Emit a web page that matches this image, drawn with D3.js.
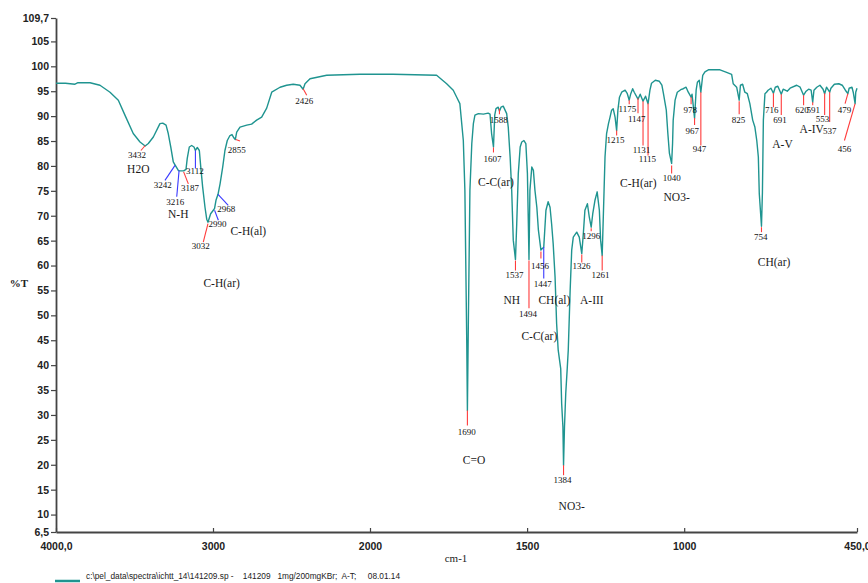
<!DOCTYPE html>
<html>
<head>
<meta charset="utf-8">
<script src="https://cdn.jsdelivr.net/npm/d3@7"></script>
<style>
  html, body { margin: 0; padding: 0; background: #fff; }
  svg { display: block; }
</style>
</head>
<body>
<script>
// IR transmittance spectrum, KBr pellet
const wavenumbers = [
  4000, 3940, 3879, 3860, 3783, 3720, 3656, 3603, 3561, 3508, 3465, 3432, 3412, 3380, 3338, 3320, 3299, 3285,
  3269, 3253, 3242, 3221, 3216, 3187, 3172, 3164, 3151, 3136, 3121, 3112, 3100, 3087, 3078, 3066, 3051, 3040,
  3032, 3015, 2998, 2990, 2981, 2968, 2955, 2938, 2924, 2909, 2892, 2879, 2866, 2858, 2849, 2828, 2785, 2754,
  2722, 2690, 2658, 2626, 2573, 2531, 2489, 2446, 2426, 2414, 2382, 2276, 2064, 1927, 1788, 1756, 1735, 1724,
  1714, 1703, 1698, 1692, 1690, 1687, 1682, 1676, 1671, 1666, 1655, 1639, 1624, 1618, 1613, 1607, 1603, 1599,
  1592, 1588, 1583, 1576, 1565, 1560, 1554, 1549, 1544, 1537, 1533, 1528, 1522, 1517, 1510, 1504, 1499, 1496,
  1494, 1491, 1485, 1480, 1475, 1469, 1464, 1456, 1447, 1440, 1433, 1427, 1422, 1417, 1411, 1406, 1401, 1393,
  1390, 1386, 1384, 1381, 1377, 1372, 1369, 1363, 1358, 1353, 1342, 1334, 1326, 1321, 1316, 1308, 1302, 1296,
  1291, 1284, 1277, 1270, 1266, 1261, 1255, 1252, 1247, 1241, 1236, 1231, 1226, 1220, 1215, 1211, 1206, 1199,
  1188, 1181, 1175, 1170, 1164, 1159, 1147, 1140, 1131, 1123, 1115, 1109, 1104, 1092, 1079, 1071, 1066, 1057,
  1052, 1047, 1040, 1037, 1035, 1029, 1022, 1011, 1003, 994, 987, 978, 975, 967, 962, 958, 952, 947,
  941, 934, 923, 886, 865, 849, 844, 833, 825, 821, 814, 807, 799, 791, 782, 775, 769, 764,
  761, 754, 751, 748, 743, 738, 733, 724, 716, 710, 702, 691, 685, 672, 663, 642, 631, 620,
  612, 604, 596, 591, 587, 578, 568, 558, 553, 547, 537, 533, 522, 508, 497, 487, 479, 475,
  466, 462, 456, 454, 450
];
const transmittance = [
  96.6, 96.6, 96.4, 96.7, 96.7, 96.2, 94.8, 93.2, 90.2, 86.5, 84.8, 84.0, 84.5, 85.8, 88.5, 88.6, 88.2, 86.5,
  83.8, 80.8, 80.2, 79.1, 79.0, 79.0, 79.3, 81.5, 83.8, 84.1, 83.8, 83.1, 83.7, 83.1, 79.8, 75.8, 71.7, 69.3,
  68.7, 70.4, 71.1, 71.5, 73.1, 74.3, 76.4, 79.8, 83.1, 85.1, 86.1, 86.3, 85.6, 85.3, 86.8, 87.8, 88.2, 88.4,
  89.2, 89.8, 91.6, 94.8, 95.8, 96.2, 96.4, 96.2, 95.4, 96.5, 97.5, 98.2, 98.4, 98.4, 98.2, 96.5, 95.2, 93.8,
  92.5, 85.1, 75.1, 44.4, 30.9, 48.4, 75.1, 84.5, 88.5, 90.2, 90.5, 90.4, 90.6, 90.4, 86.5, 83.8, 90.2, 91.5,
  91.8, 91.0, 91.8, 92.0, 90.5, 87.8, 81.8, 75.1, 65.1, 61.2, 68.4, 78.5, 83.8, 84.8, 85.1, 84.5, 78.5, 68.4,
  61.2, 75.1, 79.8, 79.1, 75.1, 71.7, 67.1, 63.1, 63.7, 71.1, 72.8, 71.7, 68.4, 64.4, 57.7, 48.3, 43.0, 39.3,
  32.3, 27.6, 19.9, 27.6, 34.3, 39.6, 43.0, 55.0, 63.1, 65.7, 66.7, 65.7, 62.4, 66.4, 71.1, 72.4, 69.7, 67.7,
  70.4, 73.1, 74.8, 71.1, 65.1, 62.0, 75.1, 81.8, 86.5, 88.5, 89.8, 91.2, 91.5, 89.8, 87.1, 91.2, 93.8, 94.8,
  95.2, 94.5, 93.2, 94.5, 95.5, 94.8, 93.4, 94.4, 93.0, 94.0, 92.5, 95.2, 96.6, 97.2, 97.0, 96.2, 94.5, 91.2,
  86.5, 82.5, 80.5, 84.5, 89.2, 93.2, 94.8, 95.3, 95.5, 95.8, 94.8, 93.8, 94.4, 89.6, 95.2, 96.8, 97.2, 94.8,
  98.2, 98.9, 99.3, 99.3, 98.8, 98.4, 96.5, 95.8, 93.2, 96.2, 96.4, 94.8, 94.5, 92.5, 89.2, 87.8, 85.1, 81.8,
  74.4, 67.9, 74.7, 89.2, 94.5, 94.8, 95.2, 95.6, 94.6, 95.8, 96.0, 94.4, 95.4, 95.0, 95.6, 96.2, 95.8, 94.2,
  95.0, 95.4, 95.2, 92.8, 95.2, 95.8, 96.2, 95.4, 94.5, 95.8, 94.8, 95.6, 96.4, 96.5, 96.2, 95.2, 94.5, 95.6,
  95.8, 94.8, 92.5, 94.8, 95.6
];

// Axis ticks
const yTicks = [6.5, 10, 15, 20, 25, 30, 35, 40, 45, 50, 55, 60, 65, 70, 75, 80, 85, 90, 95, 100, 105, 109.7];
const yTickLabels = ["6,5", "10", "15", "20", "25", "30", "35", "40", "45", "50", "55", "60", "65", "70", "75",
                     "80", "85", "90", "95", "100", "105", "109,7"];
const xTicks = [4000, 3000, 2000, 1500, 1000, 450];
const xTickLabels = ["4000,0", "3000", "2000", "1500", "1000", "450,0"];

// Peak picks: marker line from (wn, tFrom) to (wnTo, tTo), number at (labelWn, labelT)
const peakWn     = [3432, 3242, 3216, 3187, 3112, 3032, 2990, 2968, 2855, 2426, 1690, 1607, 1588, 1537, 1494, 1456,
                    1447, 1384, 1326, 1296, 1261, 1215, 1175, 1147, 1131, 1115, 1040, 978, 967, 947, 825, 754,
                    716, 691, 620, 591, 553, 537, 479, 456];
const peakFromT  = [84.1, 80.1, 79.1, 78.8, 83.1, 68.4, 71.1, 74.3, 85.3, 95.5, 30.9, 83.7, 91.5, 61.0, 61.0, 62.8,
                    63.7, 19.9, 62.2, 67.5, 62.0, 87.1, 93.2, 93.6, 93.0, 92.6, 80.1, 93.8, 89.6, 94.8, 93.0, 67.7,
                    94.6, 94.4, 94.2, 92.8, 94.6, 94.8, 94.5, 92.5];
const peakToWn   = [3459, 3306, 3231, 3157, 3112, 3062, 2966, 2903, 2828, 2403, 1690, 1607, 1588, 1537, 1494, 1456,
                    1447, 1384, 1326, 1296, 1261, 1215, 1175, 1147, 1131, 1115, 1040, 978, 967, 947, 825, 754,
                    716, 691, 620, 591, 553, 537, 488, 490];
const peakToT    = [83.1, 77.1, 73.8, 76.4, 79.5, 64.7, 69.1, 72.1, 85.0, 94.2, 27.9, 82.7, 90.4, 59.0, 51.4, 61.4,
                    57.4, 17.9, 60.6, 66.9, 59.0, 86.1, 92.4, 90.6, 84.1, 82.1, 78.5, 92.4, 88.2, 84.1, 90.4, 66.7,
                    91.8, 90.2, 92.2, 92.2, 90.2, 88.8, 92.5, 85.1];
const peakLabelWn = [3484, 3320, 3240, 3147, 3115, 3078, 2971, 2915, 2849, 2419, 1692, 1610, 1590, 1540, 1497, 1459,
                     1450, 1387, 1327, 1296, 1266, 1219, 1181, 1151, 1136, 1117, 1040, 981, 974, 951, 827, 756,
                     721, 695, 625, 589, 560, 537, 490, 490];
const peakLabelT = [82.3, 76.1, 72.8, 75.6, 79.0, 63.9, 68.3, 71.3, 83.3, 93.0, 26.7, 81.5, 89.3, 58.2, 50.2, 60.0,
                    56.4, 16.9, 60.0, 65.9, 58.2, 85.3, 91.4, 89.4, 83.3, 81.4, 77.6, 91.3, 87.1, 83.5, 89.3, 65.7,
                    91.2, 89.3, 91.3, 91.3, 89.5, 87.1, 91.2, 83.5];
const peakMarker = ["r", "b", "b", "r", "b", "r", "b", "b", "r", "r", "r", "r", "r", "r", "r", "r",
                    "b", "r", "r", "r", "r", "r", "r", "r", "r", "r", "r", "r", "r", "r", "r", "r",
                    "r", "r", "r", "r", "r", "r", "r", "r"];

// Band assignments
const groupText = ["H2O", "N-H", "C-H(al)", "C-H(ar)", "C-C(ar)", "NH", "CH(al)", "A-III", "C-C(ar)", "C-H(ar)",
                   "NO3-", "C=O", "NO3-", "A-V", "A-IV", "CH(ar)"];
const groupWn = [3476, 3221, 2775, 2945, 1599, 1549, 1413, 1294, 1461, 1146, 1024, 1669, 1358, 687, 594, 714];
const groupT  = [79.3, 70.4, 66.9, 56.4, 76.8, 53.0, 53.0, 53.0, 45.8, 76.5, 73.8, 20.9, 11.8, 84.5, 87.5, 60.7];

const legendText = "c:\\pel_data\\spectra\\ichtt_14\\141209.sp -    141209   1mg/200mgKBr;  A-T;     08.01.14";

const W = 868, H = 583;
const svg = d3.select("body").append("svg").attr("width", W).attr("height", H);

// Wavenumber axis changes scale at 2000 cm-1
const x = d3.scaleLinear().domain([4000, 2000, 450]).range([56, 370, 857]);
const y = d3.scaleLinear().domain([6.5, 109.7]).range([532, 18]);

const axisColor = "#444";
const lineColor = "#1f9490";
const serif = "'Liberation Serif', 'DejaVu Serif', serif";
const sans = "'Liberation Sans', Arial, sans-serif";

// Y axis
const gy = svg.append("g").attr("transform", "translate(56,0)")
  .call(d3.axisLeft(y).tickValues(yTicks).tickFormat((d, i) => yTickLabels[i]).tickSize(5).tickPadding(2).tickSizeOuter(0));
gy.select(".domain").attr("stroke", axisColor).attr("stroke-width", 1.8);
gy.selectAll(".tick line").attr("stroke", axisColor).attr("stroke-width", 1.2);
gy.selectAll(".tick text").attr("fill", "#222").style("font-family", sans).style("font-weight", "bold").style("font-size", "10.5px");

// X axis
const gx = svg.append("g").attr("transform", "translate(0,532)")
  .call(d3.axisBottom(x).tickValues(xTicks).tickFormat((d, i) => xTickLabels[i]).tickSize(-4).tickPadding(11).tickSizeOuter(0));
gx.select(".domain").attr("stroke", axisColor).attr("stroke-width", 1.8);
gx.selectAll(".tick line").attr("stroke", axisColor).attr("stroke-width", 1.2);
gx.selectAll(".tick text").attr("fill", "#222").style("font-family", sans).style("font-weight", "bold").style("font-size", "10.5px");

// Axis titles
svg.append("text").attr("x", 19).attr("y", 287).attr("text-anchor", "middle")
  .style("font-family", serif).style("font-weight", "bold").style("font-size", "11px").attr("fill", "#222").text("%T");
svg.append("text").attr("x", 456).attr("y", 562).attr("text-anchor", "middle")
  .style("font-family", serif).style("font-size", "11px").attr("fill", "#222").text("cm-1");

// Spectrum
const pts = wavenumbers.map((w, i) => [w, transmittance[i]]);
svg.append("path").datum(pts)
  .attr("fill", "none").attr("stroke", lineColor).attr("stroke-width", 1.4).attr("stroke-linejoin", "round")
  .attr("d", d3.line().x(d => x(d[0])).y(d => y(d[1])));

// Peak markers
const markerColor = { r: "#ff3b3b", b: "#3a3aff" };
const peaks = svg.append("g");
peakWn.forEach((w, i) => {
  peaks.append("line")
    .attr("x1", x(w)).attr("y1", y(peakFromT[i]))
    .attr("x2", x(peakToWn[i])).attr("y2", y(peakToT[i]))
    .attr("stroke", markerColor[peakMarker[i]]).attr("stroke-width", 1.1);
});
peakWn.forEach((w, i) => {
  peaks.append("text")
    .attr("x", x(peakLabelWn[i])).attr("y", y(peakLabelT[i])).attr("dy", "0.35em")
    .attr("text-anchor", "middle")
    .style("font-family", serif).style("font-size", "9px").attr("fill", "#111")
    .text(w);
});

// Band assignment labels
const groups = svg.append("g");
groupText.forEach((t, i) => {
  groups.append("text")
    .attr("x", x(groupWn[i])).attr("y", y(groupT[i])).attr("dy", "0.35em")
    .attr("text-anchor", "middle")
    .style("font-family", serif).style("font-size", "11.5px").attr("fill", "#1a1a1a")
    .text(t);
});

// Legend
svg.append("line").attr("x1", 55).attr("x2", 80).attr("y1", 581).attr("y2", 581)
  .attr("stroke", lineColor).attr("stroke-width", 2.5);
svg.append("text").attr("x", 86).attr("y", 579)
  .style("font-family", sans).style("font-size", "8.3px").style("white-space", "pre").attr("fill", "#222")
  .text(legendText);
</script>
</body>
</html>
